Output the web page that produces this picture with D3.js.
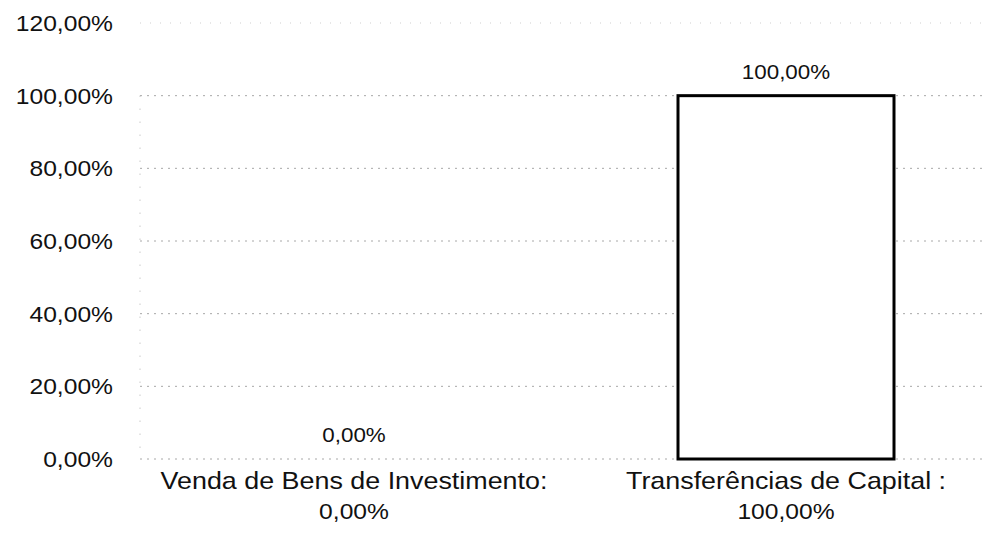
<!DOCTYPE html>
<html><head><meta charset="utf-8">
<script src="https://cdn.jsdelivr.net/npm/d3@7"></script>
<style>body{margin:0;background:#fff}svg{display:block}text{font-family:"Liberation Sans",Arial,sans-serif;fill:#111}</style>
</head><body>
<svg id="c" width="993" height="537"></svg>
<script>
const categories = ["Venda de Bens de Investimento:", "Transferências de Capital :"];
const categoryValueLabels = ["0,00%", "100,00%"];
const values = [0, 100];
const yTicks = [0, 20, 40, 60, 80, 100, 120];
const tickLabels = ["0,00%", "20,00%", "40,00%", "60,00%", "80,00%", "100,00%", "120,00%"];
const valueLabels = ["0,00%", "100,00%"];

const svg = d3.select("#c");
const left = 140, right = 985;
const y = d3.scaleLinear().domain([0, 120]).range([459, 23]);
const x = d3.scaleBand().domain(categories).range([138, 1002]).paddingInner(0.5).paddingOuter(0.25);
const SX = 1.12;

function stretchedText(g, tx, ty, txt, size, anchor) {
  return g.append("text")
    .attr("transform", `translate(${tx},${ty}) scale(${SX},1)`)
    .attr("text-anchor", anchor)
    .attr("font-size", size)
    .text(txt);
}

// gridlines
const grid = svg.append("g");
yTicks.forEach(t => {
  grid.append("line")
    .attr("x1", left).attr("x2", right)
    .attr("y1", y(t)).attr("y2", y(t))
    .attr("stroke", t === 120 ? "#cfcfcf" : "#a8a8a8").attr("stroke-width", 1)
    .attr("stroke-dasharray", t === 120 ? "1,9" : "2,5");
});
// dotted y axis line
grid.append("line").attr("x1", left).attr("x2", left)
  .attr("y1", y(100)).attr("y2", y(0))
  .attr("stroke", "#b0b0b0").attr("stroke-dasharray", "1,12");

// tick labels
const tl = svg.append("g");
yTicks.forEach((t, i) => {
  stretchedText(tl, 113, y(t) + 8, tickLabels[i], 22, "end");
});

// bars
svg.append("g").selectAll("rect").data(categories.map((c, i) => ({c, v: values[i]})).filter(d => d.v > 0)).join("rect")
  .attr("x", d => x(d.c))
  .attr("y", d => y(d.v))
  .attr("width", x.bandwidth())
  .attr("height", d => y(0) - y(d.v))
  .attr("fill", "#fff").attr("stroke", "#000").attr("stroke-width", 3);

// value labels
const vl = svg.append("g");
values.forEach((v, i) => {
  stretchedText(vl, x(categories[i]) + x.bandwidth() / 2, y(v) - 17, valueLabels[i], 20, "middle");
});

// category labels
const cl = svg.append("g");
categories.forEach((c, i) => {
  const cx = x(c) + x.bandwidth() / 2;
  stretchedText(cl, cx, 489, c, 24, "middle");
  stretchedText(cl, cx, 519, categoryValueLabels[i], 22, "middle");
});
</script>
</body></html>
